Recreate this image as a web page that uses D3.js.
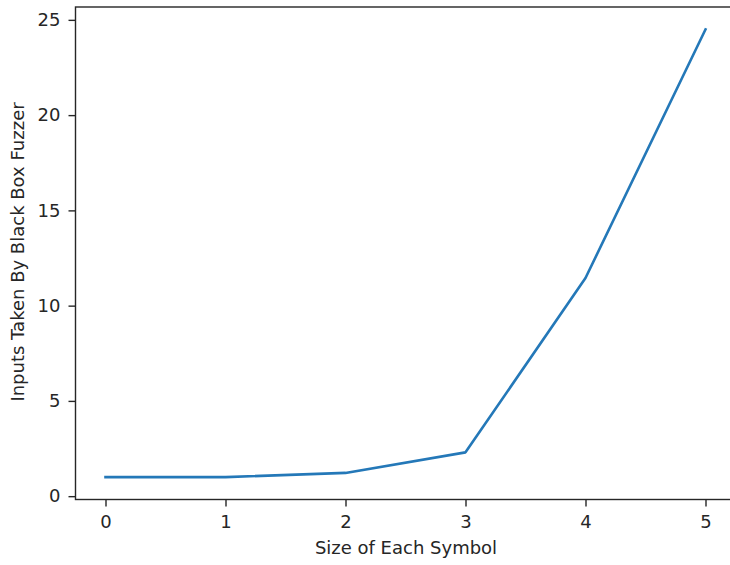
<!DOCTYPE html>
<html><head><meta charset="utf-8">
<script src="https://cdn.jsdelivr.net/npm/d3@7"></script>
<style>body{margin:0;background:#fff}svg{display:block}text{font-family:"DejaVu Sans",sans-serif;fill:#262626}</style>
</head><body>
<svg id="c" width="730" height="565"></svg>
<script>
const sizes = [0, 1, 2, 3, 4, 5];
const inputs = [1.0, 1.0, 1.22, 2.3, 11.45, 24.5];
const xTicks = [0, 1, 2, 3, 4, 5];
const yTicks = [0, 5, 10, 15, 20, 25];
const xLabel = "Size of Each Symbol";
const yLabel = "Inputs Taken By Black Box Fuzzer";

const FS = 18;
const svg = d3.select("#c");
const L = 75.5, R = 735.5, T = 7, B = 499.5;
const yMin = 1.0, yMax = 24.5, pad = (yMax - yMin) * 0.05;
const x = d3.scaleLinear().domain([-0.25, 5.25]).range([L, R]);
const y = d3.scaleLinear().domain([yMin - pad, yMax + pad]).range([B, T]);

const xAxis = svg.append("g").attr("transform", `translate(0,${B})`)
  .call(d3.axisBottom(x).tickValues(xTicks).tickSize(7).tickPadding(9).tickFormat(d3.format("d")));
const yAxis = svg.append("g").attr("transform", `translate(${L},0)`)
  .call(d3.axisLeft(y).tickValues(yTicks).tickSize(7).tickPadding(8).tickFormat(d3.format("d")));
[xAxis, yAxis].forEach(a => {
  a.select(".domain").remove();
  a.selectAll("text").attr("font-size", FS).attr("font-family", "DejaVu Sans").attr("fill", "#262626");
  a.selectAll("line").attr("stroke", "#262626").attr("stroke-width", 1.4);
});

svg.append("path").datum(sizes.map((s, i) => [s, inputs[i]]))
  .attr("fill", "none").attr("stroke", "#2478b8").attr("stroke-width", 2.6)
  .attr("stroke-linejoin", "round").attr("stroke-linecap", "square")
  .attr("d", d3.line().x(d => x(d[0])).y(d => y(d[1])));

svg.append("rect").attr("x", L).attr("y", T).attr("width", R - L).attr("height", B - T)
  .attr("fill", "none").attr("stroke", "#262626").attr("stroke-width", 1.4);

svg.append("text").attr("x", 406).attr("y", 554).attr("text-anchor", "middle")
  .attr("font-size", FS).text(xLabel);
svg.append("text").attr("transform", `translate(24,252) rotate(-90)`)
  .attr("text-anchor", "middle").attr("font-size", FS).text(yLabel);
</script>
</body></html>
